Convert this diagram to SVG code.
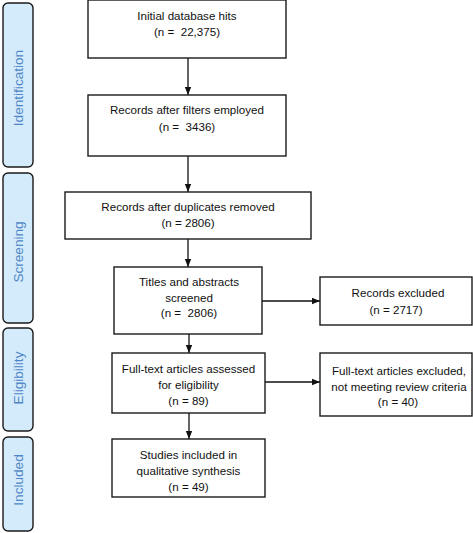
<svg xmlns="http://www.w3.org/2000/svg" width="473" height="533" viewBox="0 0 473 533">
<style>
.box{fill:#fff;stroke:#1a1a1a;stroke-width:1.4}
.side{fill:#d4ebfb;stroke:#1a1a1a;stroke-width:1.4}
.t{font-family:"Liberation Sans",Arial,sans-serif;font-size:11.6px;fill:#111;text-anchor:middle}
.s{font-family:"Liberation Sans",Arial,sans-serif;font-size:13.6px;fill:#4f86c6;text-anchor:middle}
.c{stroke:#111;stroke-width:1.3;fill:none;marker-end:url(#ah)}
</style>
<defs>
<marker id="ah" viewBox="0 0 8 8" refX="8" refY="4" markerWidth="8" markerHeight="8" markerUnits="userSpaceOnUse" orient="auto">
<path d="M0,0.8 L8,4 L0,7.2 Z" fill="#111"/>
</marker>
</defs>
<g id="side-identification"><rect class="side" x="3" y="3" width="30" height="164" rx="5"/><text class="s" transform="translate(22.5,88) rotate(-90)">Identification</text></g>
<g id="side-screening"><rect class="side" x="3" y="173" width="30" height="150" rx="5"/><text class="s" transform="translate(22.5,252) rotate(-90)">Screening</text></g>
<g id="side-eligibility"><rect class="side" x="3" y="328" width="30" height="103" rx="5"/><text class="s" transform="translate(22.5,378) rotate(-90)">Eligibility</text></g>
<g id="side-included"><rect class="side" x="3" y="437" width="30" height="94" rx="5"/><text class="s" transform="translate(22.5,480) rotate(-90)">Included</text></g>
<g id="connectors">
<path class="c" d="M188,58 V95"/>
<path class="c" d="M188,156 V192"/>
<path class="c" d="M188,239 V267"/>
<path class="c" d="M189,334 V353"/>
<path class="c" d="M189,413 V439"/>
<path class="c" d="M262,301 H320"/>
<path class="c" d="M265,382 H320"/>
</g>
<g id="n1"><rect class="box" x="88" y="0" width="198" height="58"/><text class="t" x="187" y="20">Initial database hits</text><text class="t" x="187" y="36" xml:space="preserve">(n =  22,375)</text></g>
<g id="n2"><rect class="box" x="88" y="95" width="198" height="61"/><text class="t" x="187" y="114">Records after filters employed</text><text class="t" x="187" y="131" xml:space="preserve">(n =  3436)</text></g>
<g id="n3"><rect class="box" x="65" y="192" width="246" height="47"/><text class="t" x="188" y="211">Records after duplicates removed</text><text class="t" x="188" y="227">(n = 2806)</text></g>
<g id="n4"><rect class="box" x="114" y="267" width="148" height="67"/><text class="t" x="189" y="286">Titles and abstracts</text><text class="t" x="189" y="302">screened</text><text class="t" x="189" y="317" xml:space="preserve">(n =  2806)</text></g>
<g id="n5"><rect class="box" x="320" y="277" width="152" height="48"/><text class="t" x="398" y="297">Records excluded</text><text class="t" x="396" y="314">(n = 2717)</text></g>
<g id="n6"><rect class="box" x="112" y="353" width="153" height="60"/><text class="t" x="188.5" y="373">Full-text articles assessed</text><text class="t" x="188.5" y="389">for eligibility</text><text class="t" x="188.5" y="405">(n = 89)</text></g>
<g id="n7"><rect class="box" x="320" y="353" width="152" height="63"/><text class="t" x="399" y="375">Full-text articles excluded,</text><text class="t" x="399" y="391">not meeting review criteria</text><text class="t" x="398" y="406">(n = 40)</text></g>
<g id="n8"><rect class="box" x="112" y="439" width="153" height="58"/><text class="t" x="188.5" y="459">Studies included in</text><text class="t" x="188.5" y="475">qualitative synthesis</text><text class="t" x="188.5" y="491">(n = 49)</text></g>
</svg>
